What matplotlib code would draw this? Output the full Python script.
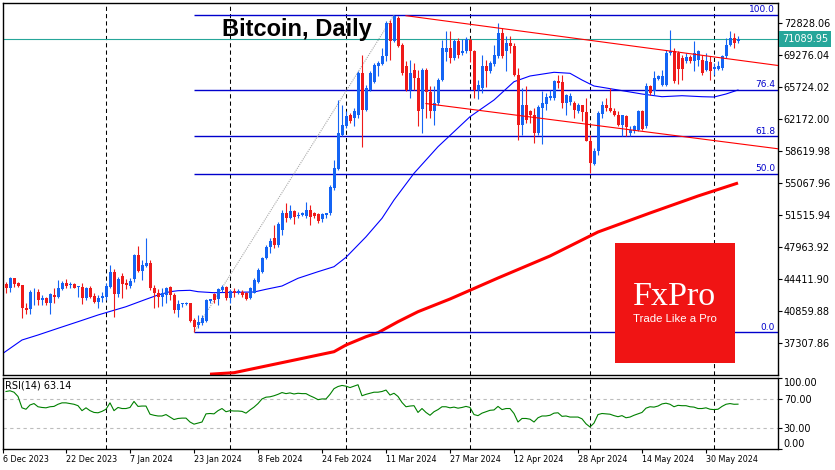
import numpy as np
import pandas as pd
import matplotlib
matplotlib.use("Agg")
import matplotlib.pyplot as plt
from matplotlib.patches import Rectangle
from matplotlib.transforms import blended_transform_factory

# ---------------- data ----------------
dates = pd.date_range("2023-12-07", periods=184, freq="D")

opens = [43857, 43413, 44523, 43968, 43779, 41259, 41082, 42947, 42969, 42147,
         42369, 41781, 42669, 42480, 43335, 44034, 43746, 43857, 43524, 43557,
         42303, 43479, 42558, 41925, 42303, 42480, 43590, 45189, 42780, 44811,
         43968, 43701, 44412, 47109, 45333, 45888, 46188, 43479, 42924, 42480,
         42669, 43524, 42669, 41004, 41637, 41670, 41748, 39894, 39339, 39528,
         39816, 42036, 42813, 42192, 43224, 43524, 42303, 43146, 42969, 43035,
         42858, 42303, 42924, 44145, 45255, 46776, 47997, 48996, 48219, 49884,
         51771, 51216, 51993, 51438, 51494, 51438, 52104, 51738, 51660, 51072,
         51549, 51771, 54546, 56622, 60462, 61428, 62682, 62316, 62682, 67311,
         63237, 65424, 66312, 68088, 68310, 69198, 72861, 70830, 73416, 70452,
         68088, 65457, 67644, 66756, 63315, 67644, 65202, 63060, 63981, 66567,
         69642, 70086, 68976, 70830, 69531, 69753, 71007, 69753, 65457, 65646,
         68088, 67500, 68310, 69165, 71751, 69720, 70641, 70308, 67122, 61572,
         63792, 63060, 62616, 60651, 63426, 63870, 64536, 64536, 66390, 66312,
         63981, 64092, 63981, 63060, 63726, 62982, 59796, 57210, 58620, 62760,
         63792, 63426, 63093, 62649, 61572, 62538, 60651, 60906, 61017, 63060,
         61428, 65835, 65280, 66678, 65979, 66012, 69531, 69786, 69531, 68976,
         68676, 69054, 68676, 68754, 68787, 67677, 68532, 67788, 67788, 67866,
         69165, 70452, 71196, 70830]
highs = [44145, 44700, 44589, 44079, 43812, 41748, 43224, 43479, 43302, 42669,
         42480, 42858, 43413, 44334, 44223, 44445, 44145, 44034, 43701, 43968,
         43590, 43668, 42858, 42669, 43035, 44034, 45999, 45555, 44700, 45078,
         44412, 44523, 47187, 48108, 46554, 48963, 46554, 43779, 43335, 43413,
         43524, 43613, 42858, 42114, 41814, 41892, 41803, 40083, 40449, 40449,
         42258, 42258, 42924, 43413, 43779, 43668, 43302, 43413, 43335, 43224,
         43035, 43524, 44523, 45633, 46887, 48219, 48996, 50439, 50805, 52104,
         52881, 52659, 52104, 51882, 51882, 53025, 52659, 51915, 51738, 51738,
         51804, 54879, 57654, 64314, 63792, 63093, 62871, 63426, 67500, 69342,
         66012, 67500, 68421, 68676, 70086, 73050, 73227, 73750, 73650, 70641,
         68610, 68787, 68421, 67677, 67866, 67866, 65835, 65835, 66756, 71007,
         71940, 71940, 71118, 71196, 71118, 71274, 71196, 69897, 66567, 69342,
         68787, 68610, 70452, 72861, 72306, 71385, 71385, 70641, 67866, 65646,
         65835, 63237, 63426, 63792, 65280, 65091, 65457, 66567, 67122, 67122,
         64980, 65091, 64170, 63981, 63792, 64536, 60462, 58986, 63060, 64170,
         64536, 65646, 63426, 63060, 62682, 62682, 61395, 61572, 63237, 63237,
         66201, 66012, 67500, 67122, 67677, 69897, 72117, 70086, 69720, 69342,
         69531, 69309, 70830, 69897, 69342, 69531, 69165, 68421, 68610, 69342,
         71196, 71940, 71751, 71451]
lows = [42858, 43035, 43590, 43590, 40149, 40527, 40527, 41559, 41559, 41559,
        41559, 40527, 41748, 42369, 43224, 43479, 43413, 43413, 42480, 41637,
        42114, 42369, 41748, 41259, 41859, 42114, 43413, 40260, 42480, 42303,
        43335, 43413, 44079, 45255, 44334, 45810, 43224, 41259, 41370, 41448,
        41748, 42114, 40638, 40260, 41370, 41559, 39705, 38529, 38973, 39339,
        39705, 41748, 41748, 41559, 43035, 42114, 41748, 42480, 42780, 42480,
        42114, 42192, 42858, 44034, 45144, 46665, 47331, 47886, 47997, 49329,
        50772, 51105, 50550, 51216, 51438, 51183, 50439, 51183, 50694, 50805,
        51183, 51549, 54324, 56544, 60318, 61206, 61761, 61428, 62316, 59130,
        63060, 65280, 66201, 66945, 68232, 68610, 68787, 70752, 70164, 67122,
        65280, 64536, 65457, 61395, 60651, 62316, 62316, 61572, 63792, 66390,
        68610, 68421, 68787, 68976, 69342, 69531, 68532, 64536, 64458, 65091,
        65724, 67311, 68055, 68976, 68976, 67500, 69531, 66945, 59907, 60462,
        61761, 61761, 59541, 60429, 59430, 63237, 64347, 64347, 65646, 63426,
        62682, 63792, 62316, 62871, 61950, 59730, 56211, 57132, 58242, 62316,
        63060, 62982, 62505, 61395, 60285, 60285, 60285, 60651, 60840, 61017,
        61206, 64902, 64902, 66567, 65835, 65835, 69342, 66201, 66090, 66567,
        68421, 68421, 67500, 68055, 67122, 67500, 66567, 67122, 67677, 67677,
        68976, 70281, 70086, 70641]
closes = [43413, 44523, 43923, 43668, 41193, 41037, 42969, 43002, 42114, 42369,
          41814, 42747, 42480, 43479, 44034, 43668, 43812, 43479, 43590, 42303,
          43479, 42480, 41925, 42369, 42591, 43668, 45255, 42780, 44445, 43890,
          43779, 44256, 47109, 45333, 45999, 46188, 43413, 42924, 42480, 42858,
          43413, 42669, 41004, 41670, 41703, 41748, 39816, 39150, 39705, 40083,
          42114, 42192, 42114, 43302, 43524, 42303, 43146, 42858, 43113, 42669,
          42225, 43413, 44334, 45444, 46776, 48030, 48663, 48219, 50550, 51771,
          51216, 51993, 51327, 51549, 51771, 52104, 51360, 51438, 50916, 51660,
          51738, 54690, 56733, 60651, 61572, 62538, 61983, 63093, 67311, 63204,
          65646, 67311, 68232, 68421, 69198, 72861, 70830, 73600, 70275, 67311,
          65457, 67311, 66756, 63060, 67677, 65202, 63060, 63981, 66567, 70086,
          70086, 68976, 70830, 69342, 69786, 71118, 69753, 65457, 66012, 68088,
          67500, 68421, 69342, 71751, 69165, 70641, 70308, 67122, 61572, 63792,
          62127, 62616, 60651, 63504, 63981, 64614, 64725, 66390, 66201, 63981,
          64836, 64725, 63237, 63726, 62982, 59796, 57321, 58620, 62871, 63792,
          63426, 63093, 62682, 61572, 62649, 61317, 61017, 61395, 63060, 61128,
          65835, 65091, 66756, 66945, 66945, 69531, 69786, 66390, 67788, 67788,
          69054, 68643, 69531, 69720, 67311, 68610, 67500, 67944, 68055, 69165,
          70452, 71196, 70641, 71089.95]

# 50-period moving average (blue), read at sample bars
ma50_bars = [-1, 4, 8, 13, 18, 23, 30, 35, 38, 41, 43, 46, 48, 52, 57, 62, 65,
             69, 73, 78, 82, 85, 90, 94, 97, 102, 108, 116, 122, 127, 131, 137,
             141, 144, 147, 152, 159, 164, 169, 174, 177, 180, 183]
ma50_vals = [36120, 37674, 38229, 38973, 39705, 40449, 41370, 42192, 42669,
             43035, 43146, 43191, 43035, 42924, 42969, 43002, 43302, 43668,
             44523, 45255, 45810, 46851, 49128, 51183, 53214, 56178, 59130,
             62460, 64314, 66345, 66978, 67389, 67278, 66534, 65868, 65502,
             64980, 64680, 64791, 64680, 64647, 64980, 65424]

# 200-period moving average (red), read at sample bars
ma200_bars = [51, 57, 65, 73, 82, 85, 90, 93, 98, 103, 111, 123, 136, 148,
              161, 173, 183]
ma200_vals = [33880, 34044, 34788, 35532, 36375, 37119, 38040, 38484, 39705,
              40815, 42225, 44556, 46998, 49662, 51771, 53658, 55101]

rsi_vals = [81, 82, 80, 74, 58, 56, 62, 64, 59.5, 58.5,
            58, 59.5, 60, 63, 65, 65, 64, 63, 61, 54,
            58, 54, 51.5, 51, 53, 56, 65, 54, 58.5, 57,
            57, 58.5, 67, 60, 60.5, 60.5, 49, 47.5, 46.5, 46.5,
            48.5, 45, 41.5, 43, 43.5, 43.5, 38, 35, 36.5, 38,
            49.5, 50, 49.5, 54, 57, 52.5, 54, 53.5, 53.5, 53,
            50.5, 55, 59, 64, 70.5, 73, 73.5, 75, 77, 79.5,
            78, 79, 77.5, 78.5, 78, 78, 75, 72.5, 69.5, 70.5,
            70.5, 77, 85, 88, 89.5, 88.5, 86.5, 88.5, 90.5, 75,
            77, 78.5, 80, 80, 81, 83, 76, 78.5, 74, 65.5,
            59.5, 60.5, 61, 51.5, 57, 51.5, 47.5, 52.5, 55.5, 59.5,
            59.5, 58, 59, 57.5, 58.5, 60, 58.5, 48.5, 47, 50.5,
            52.5, 54.5, 55, 60, 55.5, 57, 57, 50, 38, 43,
            43, 42, 38, 44, 46.5, 46.5, 47.5, 50.5, 51, 46,
            46.5, 45, 45, 45, 42.5, 35.5, 31, 36.5, 48.5, 50,
            49.5, 49, 47, 45.5, 47, 44, 45, 47.5, 49.5, 51.5,
            57.5, 59.5, 59, 60.5, 63.5, 64.5, 63, 59.5, 61.5, 61,
            61, 59.5, 59, 57, 57, 58, 56, 55.5, 56, 60,
            63, 64, 63, 63.14]

price_ticks = [72828.06, 69276.04, 65724.02, 62172.00, 58619.98, 55067.96,
               51515.94, 47963.92, 44411.90, 40859.88, 37307.86]
fib_pcts = [0.0, 50.0, 61.8, 76.4, 100.0]
fib_low_bar, fib_high_bar = 47, 97
upper_channel_bars = [100, 183]
upper_channel_vals = [73671, 68740]
lower_channel_bars = [105, 183]
lower_channel_vals = [63920, 59470]
rsi_levels = [70, 30]
rsi_ticks = [100, 70, 30, 0]
title = "Bitcoin, Daily"

# ---------------- style ----------------
BULL = "#1464F4"
BEAR = "#EE1A1A"
MA50C = "#0000FF"
FIBC = "#0000CC"
TEAL = "#26A69A"
W, H = 835, 470

fig = plt.figure(figsize=(W / 100, H / 100), dpi=100)
fig.patch.set_facecolor("white")

def fx(px):
    return px / W

def fy(py):
    return (H - py) / H

ax = fig.add_axes([fx(2.5), fy(375), 775 / W, 372 / H])
ax2 = fig.add_axes([fx(2.5), fy(449), 775 / W, 71 / H])

n = len(closes)
x = np.arange(n)
o = np.array(opens, float)
h = np.array(highs, float)
l = np.array(lows, float)
c = np.array(closes, float)
up = c >= o
cols = np.where(up, BULL, BEAR)

xl = (-0.875, 192.875)
for a in (ax, ax2):
    a.set_xlim(*xl)
    for s in a.spines.values():
        s.set_color("black")
        s.set_linewidth(1.0)

ax.set_ylim(33789, 75081)

# month separators
month_bars = [i for i, d in enumerate(dates) if d.day == 1]
for a in (ax, ax2):
    for mb in month_bars:
        a.axvline(mb, color="black", lw=0.75, ls=(0, (4, 3)), zorder=1)

# moving averages
ax.plot(ma200_bars, ma200_vals, color="#FF0000", lw=2.2, zorder=2,
        solid_capstyle="butt")
ax.plot(ma50_bars, ma50_vals, color=MA50C, lw=0.8, zorder=2)

# fibonacci
fib_low = lows[fib_low_bar]
fib_high = highs[fib_high_bar]
for p in fib_pcts:
    lv = fib_low + p / 100 * (fib_high - fib_low)
    ax.hlines(lv, fib_low_bar, xl[1], color=FIBC, lw=1.0, zorder=2)
    ax.text(192.3, lv + 60, f"{p:.1f}", color=FIBC, fontsize=6.5,
            ha="right", va="bottom", zorder=6)
ax.plot([fib_low_bar, fib_high_bar], [fib_low, fib_high], color="#A8A8A8",
        lw=0.8, ls=(0, (1, 1)), zorder=2)

# channel lines (rays to the right edge)
for bars, vals in ((upper_channel_bars, upper_channel_vals),
                   (lower_channel_bars, lower_channel_vals)):
    slope = (vals[1] - vals[0]) / (bars[1] - bars[0])
    ax.plot([bars[0], xl[1]], [vals[0], vals[0] + slope * (xl[1] - bars[0])],
            color="#FF0000", lw=0.8, zorder=5)

# current price line
ax.axhline(closes[-1], color=TEAL, lw=0.8, zorder=2)

# candles
ax.vlines(x, l, h, colors=cols, lw=0.8, zorder=3)
body_bot = np.minimum(o, c)
body_h = np.maximum(np.abs(c - o), 90)
ax.bar(x, body_h, bottom=body_bot, width=0.75, color=cols, linewidth=0,
       zorder=4)

# price axis
ax.yaxis.tick_right()
ax.set_yticks(price_ticks)
ax.set_yticklabels([f"{t:.2f}" for t in price_ticks])
ax.tick_params(axis="y", direction="out", length=3, width=0.8, pad=1.5,
               labelsize=7, colors="black")
ax.tick_params(axis="x", bottom=False, labelbottom=False)

trans = blended_transform_factory(ax.transAxes, ax.transData)
ax.text(1.006, closes[-1], f"{closes[-1]:.2f}", transform=trans, color="white",
        fontsize=7, ha="left", va="center", zorder=10, clip_on=False,
        bbox=dict(boxstyle="square,pad=0.3", fc=TEAL, ec="none"))

# RSI panel
ax2.plot(x, rsi_vals, color="#008000", lw=0.8, zorder=3)
for lv in rsi_levels:
    ax2.axhline(lv, color="#BDBDBD", lw=0.8, ls=(0, (3, 3)), zorder=1)
ax2.set_ylim(0, 100)
ax2.yaxis.tick_right()
ax2.set_yticks(rsi_ticks)
ax2.set_yticklabels([f"{t:.2f}" for t in rsi_ticks])
ax2.tick_params(axis="y", direction="out", length=3, width=0.8, pad=1.5,
                labelsize=7, colors="black")
yl = ax2.get_yticklabels()
yl[0].set_va("top")
yl[-1].set_va("bottom")
ax2.text(0.003, 0.97, f"RSI(14) {rsi_vals[-1]:.2f}", transform=ax2.transAxes,
         fontsize=7, ha="left", va="top")

# date labels every 16 days starting 6 Dec 2023
label_dates = pd.date_range("2023-12-06", periods=12, freq="16D")
label_pos = [max((d - dates[0]).days, xl[0] + 0.01) for d in label_dates]
ax2.set_xticks(label_pos)
ax2.set_xticklabels([f"{d.day} {d.strftime('%b %Y')}" for d in label_dates])
ax2.tick_params(axis="x", direction="out", length=3, width=0.8, pad=1.5,
                labelsize=5.8)
for t in ax2.get_xticklabels():
    t.set_ha("left")

# title
fig.text(fx(222), fy(36), title, fontsize=17, fontweight="bold",
         family="Liberation Sans", va="baseline", ha="left", zorder=8)

# logo
fig.add_artist(Rectangle((fx(615), fy(363)), 120 / W, 120 / H,
                         transform=fig.transFigure, fc="#F01414", ec="none",
                         zorder=10))
fig.text(fx(675), fy(305), "FxPro", family="Liberation Serif", fontsize=24.5,
         color="white", ha="center", va="baseline", zorder=11)
fig.text(fx(675), fy(321.5), "Trade Like a Pro", family="Liberation Sans",
         fontsize=8.2, color="white", ha="center", va="baseline", zorder=11)

fig.savefig("out.png", dpi=100, facecolor="white")
